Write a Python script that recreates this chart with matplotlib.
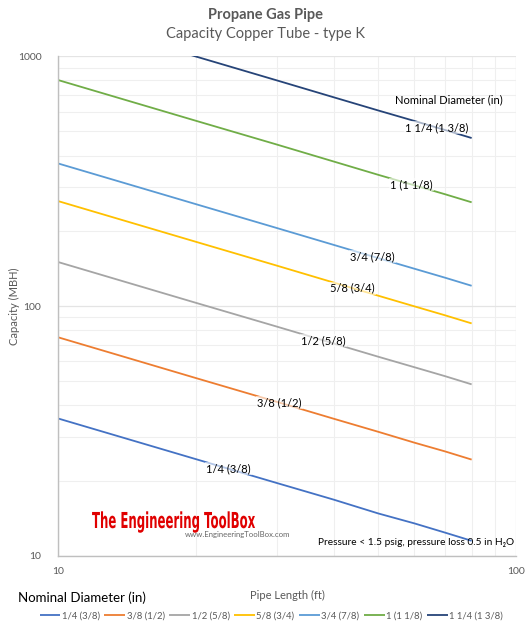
import numpy as np
import matplotlib
matplotlib.use("Agg")
import matplotlib.pyplot as plt
from matplotlib.ticker import FixedLocator, NullFormatter
from matplotlib.textpath import TextPath
from matplotlib.patches import PathPatch
from matplotlib.font_manager import FontProperties
from matplotlib.transforms import Affine2D

plt.rcParams['font.family'] = ['Lato', 'DejaVu Sans']

# pipe length (ft)
length = [10, 20, 30, 40, 50, 60, 70, 80]

# capacity (MBH) per nominal diameter
cap_14 = [35.5, 24.4, 19.6, 16.8, 14.8, 13.5, 12.4, 11.5]
cap_38 = [75, 51.5, 41.4, 35.4, 31.4, 28.4, 26.2, 24.3]
cap_12 = [150, 103, 82.8, 70.8, 62.7, 56.9, 52.4, 48.6]
cap_58 = [263, 180.7, 145.2, 124.1, 110, 99.7, 91.8, 85.2]
cap_34 = [372, 255.6, 205.3, 175.6, 155.5, 141, 129.8, 120.5]
cap_1 = [802, 551, 443, 378.5, 335, 304, 280, 260]
cap_114 = [1450, 996, 800, 684, 606, 550, 506, 470]

names = ['1/4 (3/8)', '3/8 (1/2)', '1/2 (5/8)', '5/8 (3/4)',
         '3/4 (7/8)', '1 (1 1/8)', '1 1/4 (1 3/8)']
series = [cap_14, cap_38, cap_12, cap_58, cap_34, cap_1, cap_114]
colors = ['#4472C4', '#ED7D31', '#A5A5A5', '#FFC000',
          '#5B9BD5', '#70AD47', '#264478']

# label position along each line (pipe length where the label sits)
label_x = [23.6, 30.4, 38, 44, 48.5, 59, 67]

fig = plt.figure(figsize=(5.32, 6.30), dpi=100)
ax = fig.add_axes([0.109, 0.1175, 0.861, 0.7935])

for name, vals, c in zip(names, series, colors):
    ax.plot(length, vals, color=c, lw=1.3, label=name, solid_capstyle='butt')

ax.set_xscale('log')
ax.set_yscale('log')
ax.set_xlim(10, 100)
ax.set_ylim(10, 1000)

ax.xaxis.set_major_locator(FixedLocator([10, 100]))
ax.yaxis.set_major_locator(FixedLocator([10, 100, 1000]))
ax.xaxis.set_minor_locator(FixedLocator(range(20, 100, 10)))
ax.yaxis.set_minor_locator(FixedLocator(list(range(20, 100, 10)) + list(range(200, 1000, 100))))
ax.xaxis.set_minor_formatter(NullFormatter())
ax.yaxis.set_minor_formatter(NullFormatter())
ax.set_xticklabels(['10', '100'])
ax.set_yticklabels(['10', '100', '1000'])
ax.tick_params(which='both', length=0, labelsize=7.5, labelcolor='#595959')
ax.tick_params(axis='x', pad=8)
ax.tick_params(axis='y', pad=12)

ax.grid(True, which='major', color='#e4e4e4', lw=0.9)
ax.grid(True, which='minor', color='#efefef', lw=0.8)
ax.set_axisbelow(True)
for s in ['top', 'right']:
    ax.spines[s].set_visible(False)
for s in ['left', 'bottom']:
    ax.spines[s].set_color('#bfbfbf')
    ax.spines[s].set_linewidth(1.0)

ax.set_xlabel('Pipe Length (ft)', fontsize=8, color='#595959', labelpad=10)
ax.set_ylabel('Capacity (MBH)', fontsize=8, color='#595959')
ax.yaxis.set_label_coords(-0.083, 0.5)

# labels on the lines
for name, vals, lx in zip(names, series, label_x):
    ly = np.exp(np.interp(np.log(lx), np.log(length), np.log(vals)))
    ax.text(lx, ly, name, fontsize=8, color='black', ha='center', va='center',
            bbox=dict(boxstyle='square,pad=0.1', fc='white', ec='none', alpha=0.6))
ax.text(0.853, 0.912, 'Nominal Diameter (in)', transform=ax.transAxes,
        fontsize=8, ha='center', va='center')

ax.text(0.995, 0.018, 'Pressure < 1.5 psig, pressure loss 0.5 in H\u2082O',
        transform=ax.transAxes, fontsize=7.3, ha='right', va='bottom')

# watermark, drawn as a condensed text path in pixel coordinates
tp = TextPath((0, 0), 'The Engineering ToolBox', size=22,
              prop=FontProperties(family='DejaVu Sans', weight='bold'))
w = tp.get_extents().width
sx = 163.0 / w
wm = PathPatch(tp, fc='#e00000', ec='none',
               transform=Affine2D().scale(sx, 1.0).translate(92, 630 - 528))
fig.add_artist(wm)
ax.text(0.278, 0.042, 'www.EngineeringToolBox.com', transform=ax.transAxes,
        fontsize=5.6, color='#666666', ha='left', va='center')

# titles
fig.text(0.5, 0.976, 'Propane Gas Pipe', ha='center', va='center',
         fontsize=10.5, fontweight='bold', color='#595959')
fig.text(0.5, 0.946, 'Capacity Copper Tube - type K', ha='center', va='center',
         fontsize=10.5, color='#595959')

# legend
fig.text(0.034, 0.052, 'Nominal Diameter (in)', ha='left', va='center',
         fontsize=9.5, color='black')
fig.legend(loc='center', bbox_to_anchor=(0.51, 0.022), ncol=7, frameon=False,
           fontsize=6.8, handlelength=2.2, handletextpad=0.15, columnspacing=0.5,
           labelcolor='#595959')

fig.savefig('out.png', dpi=100)
